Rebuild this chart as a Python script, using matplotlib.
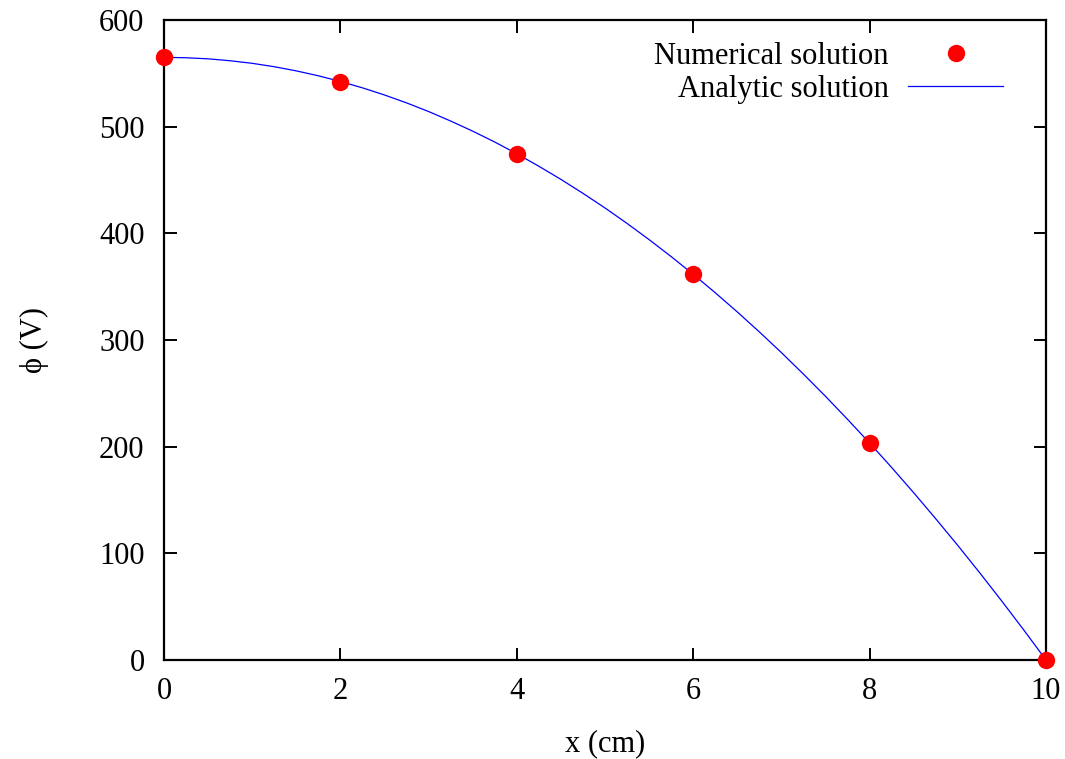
import matplotlib
matplotlib.use("Agg")
import matplotlib.pyplot as plt

plt.rcParams['font.family'] = ['Liberation Serif', 'DejaVu Serif']

# Numerical solution points
x_num = [0, 2, 4, 6, 8, 10]
phi_num = [565, 542, 474, 362, 203, 0]

# Analytic solution curve
x_ana = [0, 0.25, 0.5, 0.75, 1, 1.25, 1.5, 1.75, 2, 2.25, 2.5, 2.75, 3, 3.25, 3.5, 3.75,
         4, 4.25, 4.5, 4.75, 5, 5.25, 5.5, 5.75, 6, 6.25, 6.5, 6.75, 7, 7.25, 7.5, 7.75,
         8, 8.25, 8.5, 8.75, 9, 9.25, 9.5, 9.75, 10]
phi_ana = [565, 564.6, 563.6, 561.8, 559.4, 556.2, 552.3, 547.7, 542.4, 536.4, 529.7,
           522.3, 514.2, 505.3, 495.8, 485.6, 474.6, 462.9, 450.6, 437.5, 423.8, 409.3,
           394.1, 378.2, 361.6, 344.3, 326.3, 307.6, 288.2, 268.0, 247.2, 225.6, 203.4,
           180.5, 156.8, 132.4, 107.4, 81.6, 55.1, 27.9, 0]

xticks = [0, 2, 4, 6, 8, 10]
yticks = [0, 100, 200, 300, 400, 500, 600]

fig = plt.figure(figsize=(10.65, 7.59), dpi=100)
ax = fig.add_axes([164/1065, 1 - 660/759, (1046-164)/1065, (660-20)/759])

ax.plot(x_num, phi_num, 'o', color='#ff0000', ms=12.5, mec='none', clip_on=False, zorder=5,
        label='Numerical solution')
ax.plot(x_ana, phi_ana, '-', color='#0000ff', lw=0.9, label='Analytic solution', zorder=4)

ax.set_xlim(0, 10)
ax.set_ylim(0, 600)
ax.set_xticks(xticks)
ax.set_yticks(yticks)
ax.tick_params(direction='in', length=9, width=1.4, labelsize=22, top=True, right=True, pad=12)
ax.tick_params(axis='y', pad=14)
for s in ax.spines.values():
    s.set_linewidth(1.6)

ax.set_xlabel('x (cm)', fontsize=22, labelpad=17)
ax.set_ylabel('ϕ (V)', fontsize=22, labelpad=36)

leg = ax.legend(loc='upper right', bbox_to_anchor=(1003/1065, 1 - 42/759),
                bbox_transform=fig.transFigure, frameon=False, markerfirst=False,
                fontsize=22, handlelength=3.1, handletextpad=0.65, labelspacing=0.12,
                borderpad=0, borderaxespad=0)

fig.savefig('out.png', dpi=100)
